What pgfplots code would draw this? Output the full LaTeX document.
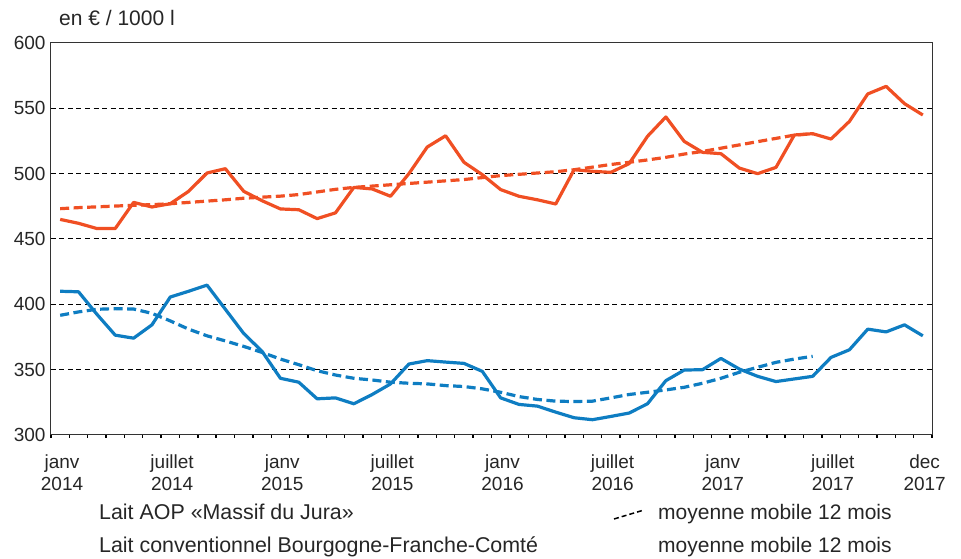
\documentclass[border=0pt]{standalone}
\usepackage{fontspec}
\setmainfont{Liberation Sans}
\usepackage{pgfplots}
\usepackage{pgfplotstable}
\pgfplotsset{compat=1.18}
\definecolor{cred}{HTML}{F04F23}
\definecolor{cblue}{HTML}{0E7DC2}

\pgfplotstableread{
i y
0 465
1 462
2 458
3 458
4 478
5 474.5
6 477
7 486.5
8 500.5
9 503.8
10 486.5
11 479.3
12 473
13 472.4
14 465.6
15 470
16 489.5
17 488.3
18 482.7
19 500
20 520.4
21 529
22 508.7
23 499.2
24 487.8
25 482.7
26 480
27 476.8
28 503
29 501.8
30 501
31 507.7
32 528.6
33 543.4
34 524.7
35 516.3
36 515.3
37 504.3
38 500
39 504.8
40 529.6
41 530.6
42 526.5
43 540
44 561
45 566.8
46 553.6
47 544.9
}\aop

\pgfplotstableread{
i y
0 473.2
1 474
2 474.6
3 475.2
4 475.8
5 476.3
6 477
7 478
8 479
9 480
10 481.2
11 482
12 482.8
13 484
14 486
15 488
16 489.5
17 490.5
18 491.5
19 492.5
20 493.5
21 494.5
22 495.5
23 497
24 498.5
25 499.5
26 500.5
27 501.5
28 503
29 505
30 507
31 508.7
32 510.5
33 512.5
34 515
35 517
36 519.5
37 522
38 524.5
39 527
40 529.5
41 530.5
}\aopma

\pgfplotstableread{
i y
0 410
1 409.6
2 392.4
3 376.4
4 374.1
5 384.3
6 405.6
7 410
8 414.7
9 396.2
10 377.7
11 364
12 343.4
13 340.4
14 327.7
15 328.4
16 323.9
17 331
18 339.1
19 354.3
20 356.9
21 355.8
22 354.8
23 348.7
24 328.4
25 323.4
26 322.1
27 317.5
28 313.2
29 311.7
30 314.2
31 316.8
32 323.9
33 341.6
34 349.7
35 350
36 358.6
37 350.5
38 344.9
39 340.9
40 342.9
41 344.9
42 359.4
43 365.2
44 381
45 378.9
46 384.3
47 375.9
}\conv

\pgfplotstableread{
i y
0 391.6
1 394.2
2 396.2
3 396.7
4 396.4
5 393.1
6 387.3
7 381
8 375.9
9 372
10 367.8
11 363.2
12 358.1
13 353.8
14 349.2
15 345.9
16 343.4
17 342.1
18 340.4
19 339.6
20 339.1
21 337.8
22 337.1
23 335.3
24 332.7
25 329.4
26 327.2
27 325.9
28 325.6
29 325.9
30 328.4
31 331
32 332.7
33 334.5
34 336.5
35 339.6
36 343.4
37 348
38 351.8
39 355.6
40 358.1
41 360.2
}\convma

\begin{document}
\begin{tikzpicture}
\useasboundingbox (0,0) rectangle (961pt,559pt);
\begin{axis}[
  at={(51pt,124pt)}, anchor=south west,
  scale only axis, width=881pt, height=392pt,
  xmin=0, xmax=48, ymin=300, ymax=600,
  axis line style={draw=black!80, line width=1pt},
  ytick={300,350,...,600},
  yticklabel style={inner sep=0pt, xshift=-1pt, font=\fontsize{19}{22}\selectfont, text=black!85},
  /pgf/number format/assume math mode=true,
  ytick style={draw=none},
  extra y ticks={350,400,450,500,550},
  extra y tick labels={},
  extra y tick style={ymajorgrids=true, major grid style={black, line width=1pt, dash pattern=on 5pt off 3.5pt}},
  xtick={0.6,6.6,12.6,18.6,24.6,30.6,36.6,42.6,47.6},
  xticklabels={janv\\2014, juillet\\2014, janv\\2015, juillet\\2015, janv\\2016, juillet\\2016, janv\\2017, juillet\\2017, dec\\2017},
  xticklabel style={align=center, inner sep=0pt, anchor=north, yshift=-15.5pt, font=\fontsize{19}{21.7}\selectfont, text=black!85},
  major x tick style={draw=none},
  minor xtick={0,1,...,48},
  minor x tick style={draw=black, line width=1.4pt},
  minor tick length=3pt,
  tick align=outside,
  tick pos=left,
  clip=false,
]
\addplot[cred, line width=3.2pt, line join=round] table[x expr=\thisrow{i}+0.5, y=y] {\aop};
\addplot[cred, line width=3.2pt, dash pattern=on 9pt off 4.5pt] table[x expr=\thisrow{i}+0.5, y=y] {\aopma};
\addplot[cblue, line width=3.2pt, line join=round] table[x expr=\thisrow{i}+0.5, y=y] {\conv};
\addplot[cblue, line width=3.2pt, dash pattern=on 9pt off 4.5pt] table[x expr=\thisrow{i}+0.5, y=y] {\convma};
\end{axis}
\node[anchor=base west, inner sep=0pt, font=\fontsize{21}{25}\selectfont, text=black!85] at (59pt,533pt) {en € / 1000 l};
\node[anchor=base west, inner sep=0pt, font=\fontsize{21.4}{25}\selectfont, text=black!85] at (99pt,39pt) {Lait AOP «Massif du Jura»};
\node[anchor=base west, inner sep=0pt, font=\fontsize{21.4}{25}\selectfont, text=black!85] at (99pt,6pt) {Lait conventionnel Bourgogne-Franche-Comté};
\node[anchor=base west, inner sep=0pt, font=\fontsize{21}{25}\selectfont, text=black!85] at (658pt,39pt) {moyenne mobile 12 mois};
\node[anchor=base west, inner sep=0pt, font=\fontsize{21}{25}\selectfont, text=black!85] at (658pt,6pt) {moyenne mobile 12 mois};
\draw[black, line width=1.5pt, dash pattern=on 5pt off 3pt] (614pt,40pt) -- (644pt,49pt);
\end{tikzpicture}
\end{document}
